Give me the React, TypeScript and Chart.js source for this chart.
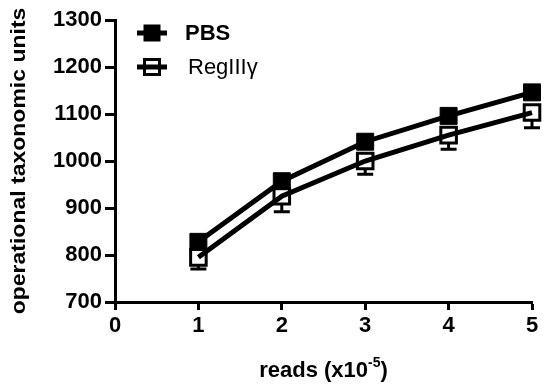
import React, { useEffect, useRef } from "react";
import { Chart, registerables } from "chart.js";

Chart.register(...registerables);

const readsX = [1, 2, 3, 4, 5];
const pbsValues = [828, 957, 1041, 1096, 1146];
const regValues = [795, 925, 1000, 1055, 1103];
const regErrors = [25, 33, 28, 30, 32];
const seriesNames = ["PBS", "RegIII\u03b3"];
const yAxisTitle = "operational taxonomic units";
const xAxisTitleMain = "reads (x10";
const xAxisTitleSup = "-5";
const xAxisTitleEnd = ")";

const FONT = "'Liberation Sans', Arial, sans-serif";

const errorBarPlugin = {
  id: "errorBars",
  afterDatasetsDraw(chart: any) {
    const { ctx, scales } = chart;
    const xs = scales.x;
    const ys = scales.y;
    ctx.save();
    ctx.strokeStyle = "#000";
    ctx.lineWidth = 3;
    readsX.forEach((xv, i) => {
      const px = xs.getPixelForValue(xv);
      const py = ys.getPixelForValue(regValues[i]);
      const pb = ys.getPixelForValue(regValues[i] - regErrors[i]);
      ctx.beginPath();
      ctx.moveTo(px, py + 8);
      ctx.lineTo(px, pb);
      ctx.moveTo(px - 8, pb);
      ctx.lineTo(px + 8, pb);
      ctx.stroke();
    });
    ctx.restore();
  },
};

const textPlugin = {
  id: "customTexts",
  afterDraw(chart: any) {
    const { ctx, chartArea } = chart;
    ctx.save();
    ctx.fillStyle = "#000";
    // y axis title
    const cy = (chartArea.top + chartArea.bottom) / 2;
    ctx.save();
    ctx.translate(25, cy);
    ctx.rotate(-Math.PI / 2);
    ctx.scale(1, 0.85);
    ctx.font = `bold 23px ${FONT}`;
    ctx.textAlign = "center";
    ctx.textBaseline = "alphabetic";
    ctx.fillText(yAxisTitle, 0, 0);
    ctx.restore();

    // x axis title with superscript
    const cx = (chartArea.left + chartArea.right) / 2;
    const mainFont = `bold 22px ${FONT}`;
    const supFont = `bold 14px ${FONT}`;
    ctx.font = mainFont;
    const w1 = ctx.measureText(xAxisTitleMain).width;
    const w3 = ctx.measureText(xAxisTitleEnd).width;
    ctx.font = supFont;
    const w2 = ctx.measureText(xAxisTitleSup).width;
    const total = w1 + w2 + w3;
    let x0 = cx - total / 2;
    const base = 377;
    ctx.textAlign = "left";
    ctx.textBaseline = "alphabetic";
    ctx.font = mainFont;
    ctx.fillText(xAxisTitleMain, x0, base);
    x0 += w1;
    ctx.font = supFont;
    ctx.fillText(xAxisTitleSup, x0, base - 10);
    x0 += w2;
    ctx.font = mainFont;
    ctx.fillText(xAxisTitleEnd, x0, base);

    // legend
    const rows = [
      { y: 33, filled: true, label: seriesNames[0], weight: "bold", tx: 185 },
      { y: 67, filled: false, label: seriesNames[1], weight: "normal", tx: 188 },
    ];
    rows.forEach((r) => {
      const sx = 152;
      ctx.strokeStyle = "#000";
      ctx.lineWidth = 5;
      ctx.beginPath();
      ctx.moveTo(sx - 15, r.y);
      ctx.lineTo(sx + 15, r.y);
      ctx.stroke();
      if (r.filled) {
        ctx.fillRect(sx - 8.5, r.y - 8.5, 17, 17);
      } else {
        ctx.lineWidth = 3;
        ctx.strokeRect(sx - 7.5, r.y - 7.5, 15, 15);
      }
      ctx.font = `${r.weight} 22px ${FONT}`;
      ctx.textAlign = "left";
      ctx.textBaseline = "middle";
      ctx.fillText(r.label, r.tx, r.y + 1);
    });
    ctx.restore();
  },
};

export default function App() {
  const ref = useRef<HTMLCanvasElement | null>(null);
  useEffect(() => {
    if (!ref.current) return;
    const chart = new Chart(ref.current, {
      type: "line",
      data: {
        datasets: [
          {
            label: seriesNames[0],
            data: readsX.map((x, i) => ({ x, y: pbsValues[i] })),
            borderColor: "#000",
            backgroundColor: "#000",
            borderWidth: 5,
            pointStyle: "rect",
            pointRadius: 12,
            pointBorderWidth: 1,
            pointBackgroundColor: "#000",
            pointBorderColor: "#000",
            tension: 0,
            clip: false as any,
          },
          {
            label: seriesNames[1],
            data: readsX.map((x, i) => ({ x, y: regValues[i] })),
            borderColor: "#000",
            backgroundColor: "rgba(0,0,0,0)",
            borderWidth: 5,
            pointStyle: "rect",
            pointRadius: 11,
            pointBorderWidth: 3,
            pointBackgroundColor: "rgba(0,0,0,0)",
            pointBorderColor: "#000",
            tension: 0,
            clip: false as any,
          },
        ],
      },
      options: {
        animation: false,
        responsive: false,
        devicePixelRatio: 1,
        layout: { padding: { top: 20, right: 7, left: 0, bottom: 0 } },
        plugins: {
          legend: { display: false },
          tooltip: { enabled: false },
          title: { display: false },
        },
        scales: {
          x: {
            type: "linear",
            min: 0,
            max: 5,
            ticks: {
              stepSize: 1,
              color: "#000",
              padding: 3,
              font: { family: FONT, size: 22, weight: "bold" },
              callback: (v: any) => String(v),
            },
            grid: {
              drawOnChartArea: false,
              drawTicks: true,
              tickLength: 8,
              tickWidth: 3,
              color: "#000",
            },
            border: { display: true, width: 3, color: "#000" },
            afterFit: (s: any) => {
              s.height = 83;
            },
          },
          y: {
            type: "linear",
            min: 700,
            max: 1300,
            ticks: {
              stepSize: 100,
              color: "#000",
              padding: 3,
              font: { family: FONT, size: 22, weight: "bold" },
              callback: (v: any) => String(v),
            },
            grid: {
              drawOnChartArea: false,
              drawTicks: true,
              tickLength: 10,
              tickWidth: 3,
              color: "#000",
            },
            border: { display: true, width: 3, color: "#000" },
            afterFit: (s: any) => {
              s.width = 115;
            },
          },
        },
      },
      plugins: [errorBarPlugin, textPlugin],
    });
    return () => chart.destroy();
  }, []);
  return (
    <div style={{ position: "fixed", left: 0, top: 0, width: 546, height: 385, background: "#fff" }}>
      <canvas ref={ref} width={546} height={385} />
    </div>
  );
}
